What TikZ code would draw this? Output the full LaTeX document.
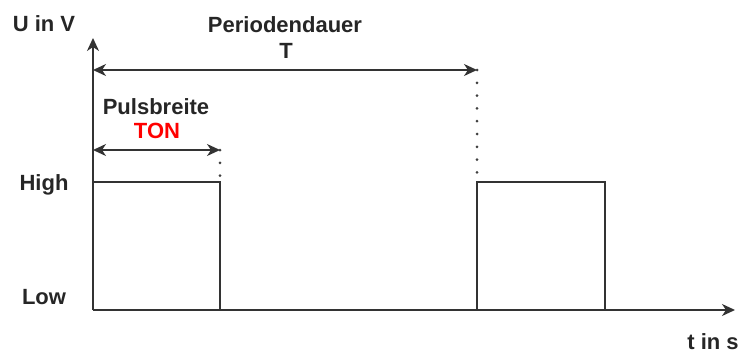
\documentclass[tikz,border=0pt]{standalone}
\usepackage{fontspec}
\setmainfont{Liberation Sans}
\usetikzlibrary{arrows.meta}

\tikzset{
  spitze/.tip={Stealth[length=13pt,width=12pt,inset=4pt]},
  achse/.style={draw=black!80, line width=1.8pt, -spitze},
  mass/.style={draw=black!80, line width=1.8pt, spitze-spitze},
  signal/.style={draw=black!80, line width=1.6pt},
  hilfslinie/.style={draw=black!75, line width=3pt, line cap=round, dash pattern=on 0pt off 12.8pt},
  beschriftung/.style={font=\fontsize{22}{24}\selectfont\bfseries, inner sep=0pt, text=black!85},
}

\begin{document}
\begin{tikzpicture}[x=1pt,y=-1pt]
	\useasboundingbox (0,0) rectangle (742,354);
	
	% Achsen
	\coordinate (O) at (93,310);
	\coordinate (Uende) at (93,38);
	\coordinate (tende) at (735,310);
	\draw[achse] (O) -- (Uende);
	\draw[achse] (O) -- (tende);
	
	% erster Puls
	\coordinate (p1a) at (93,182);
	\coordinate (p1b) at (220,182);
	\coordinate (p1c) at (220,310);
	\draw[signal] (p1a) -- (p1b) -- (p1c);
	
	% zweiter Puls
	\coordinate (p2a) at (477,310);
	\coordinate (p2b) at (477,182);
	\coordinate (p2c) at (605,182);
	\coordinate (p2d) at (605,310);
	\draw[signal] (p2a) -- (p2b) -- (p2c) -- (p2d);
	
	% Periodendauer
	\coordinate (Tl) at (93,70);
	\coordinate (Tr) at (477,70);
	\draw[mass] (Tl) -- (Tr);
	\draw[hilfslinie] (Tr) -- (p2b);
	
	% Pulsbreite
	\coordinate (Bl) at (93,150);
	\coordinate (Br) at (220,150);
	\draw[mass] (Bl) -- (Br);
	\draw[hilfslinie] (Br) -- (p1b);
	
	% Beschriftung
	\node[beschriftung] (uachse) at (44,24) {U in V};
	\node[beschriftung] (tachse) at (713,342) {t in s};
	\node[beschriftung] (high) at (44,185) {High};
	\node[beschriftung] (low) at (44,297) {Low};
	\node[beschriftung] (periode) at (285,25) {Periodendauer};
	\node[beschriftung] (tlabel) at (286,51) {T};
	\node[beschriftung] (breite) at (156,107) {Pulsbreite};
	\node[beschriftung, text=red] (ton) at (157,131) {TON};
	
\end{tikzpicture}
\end{document}
